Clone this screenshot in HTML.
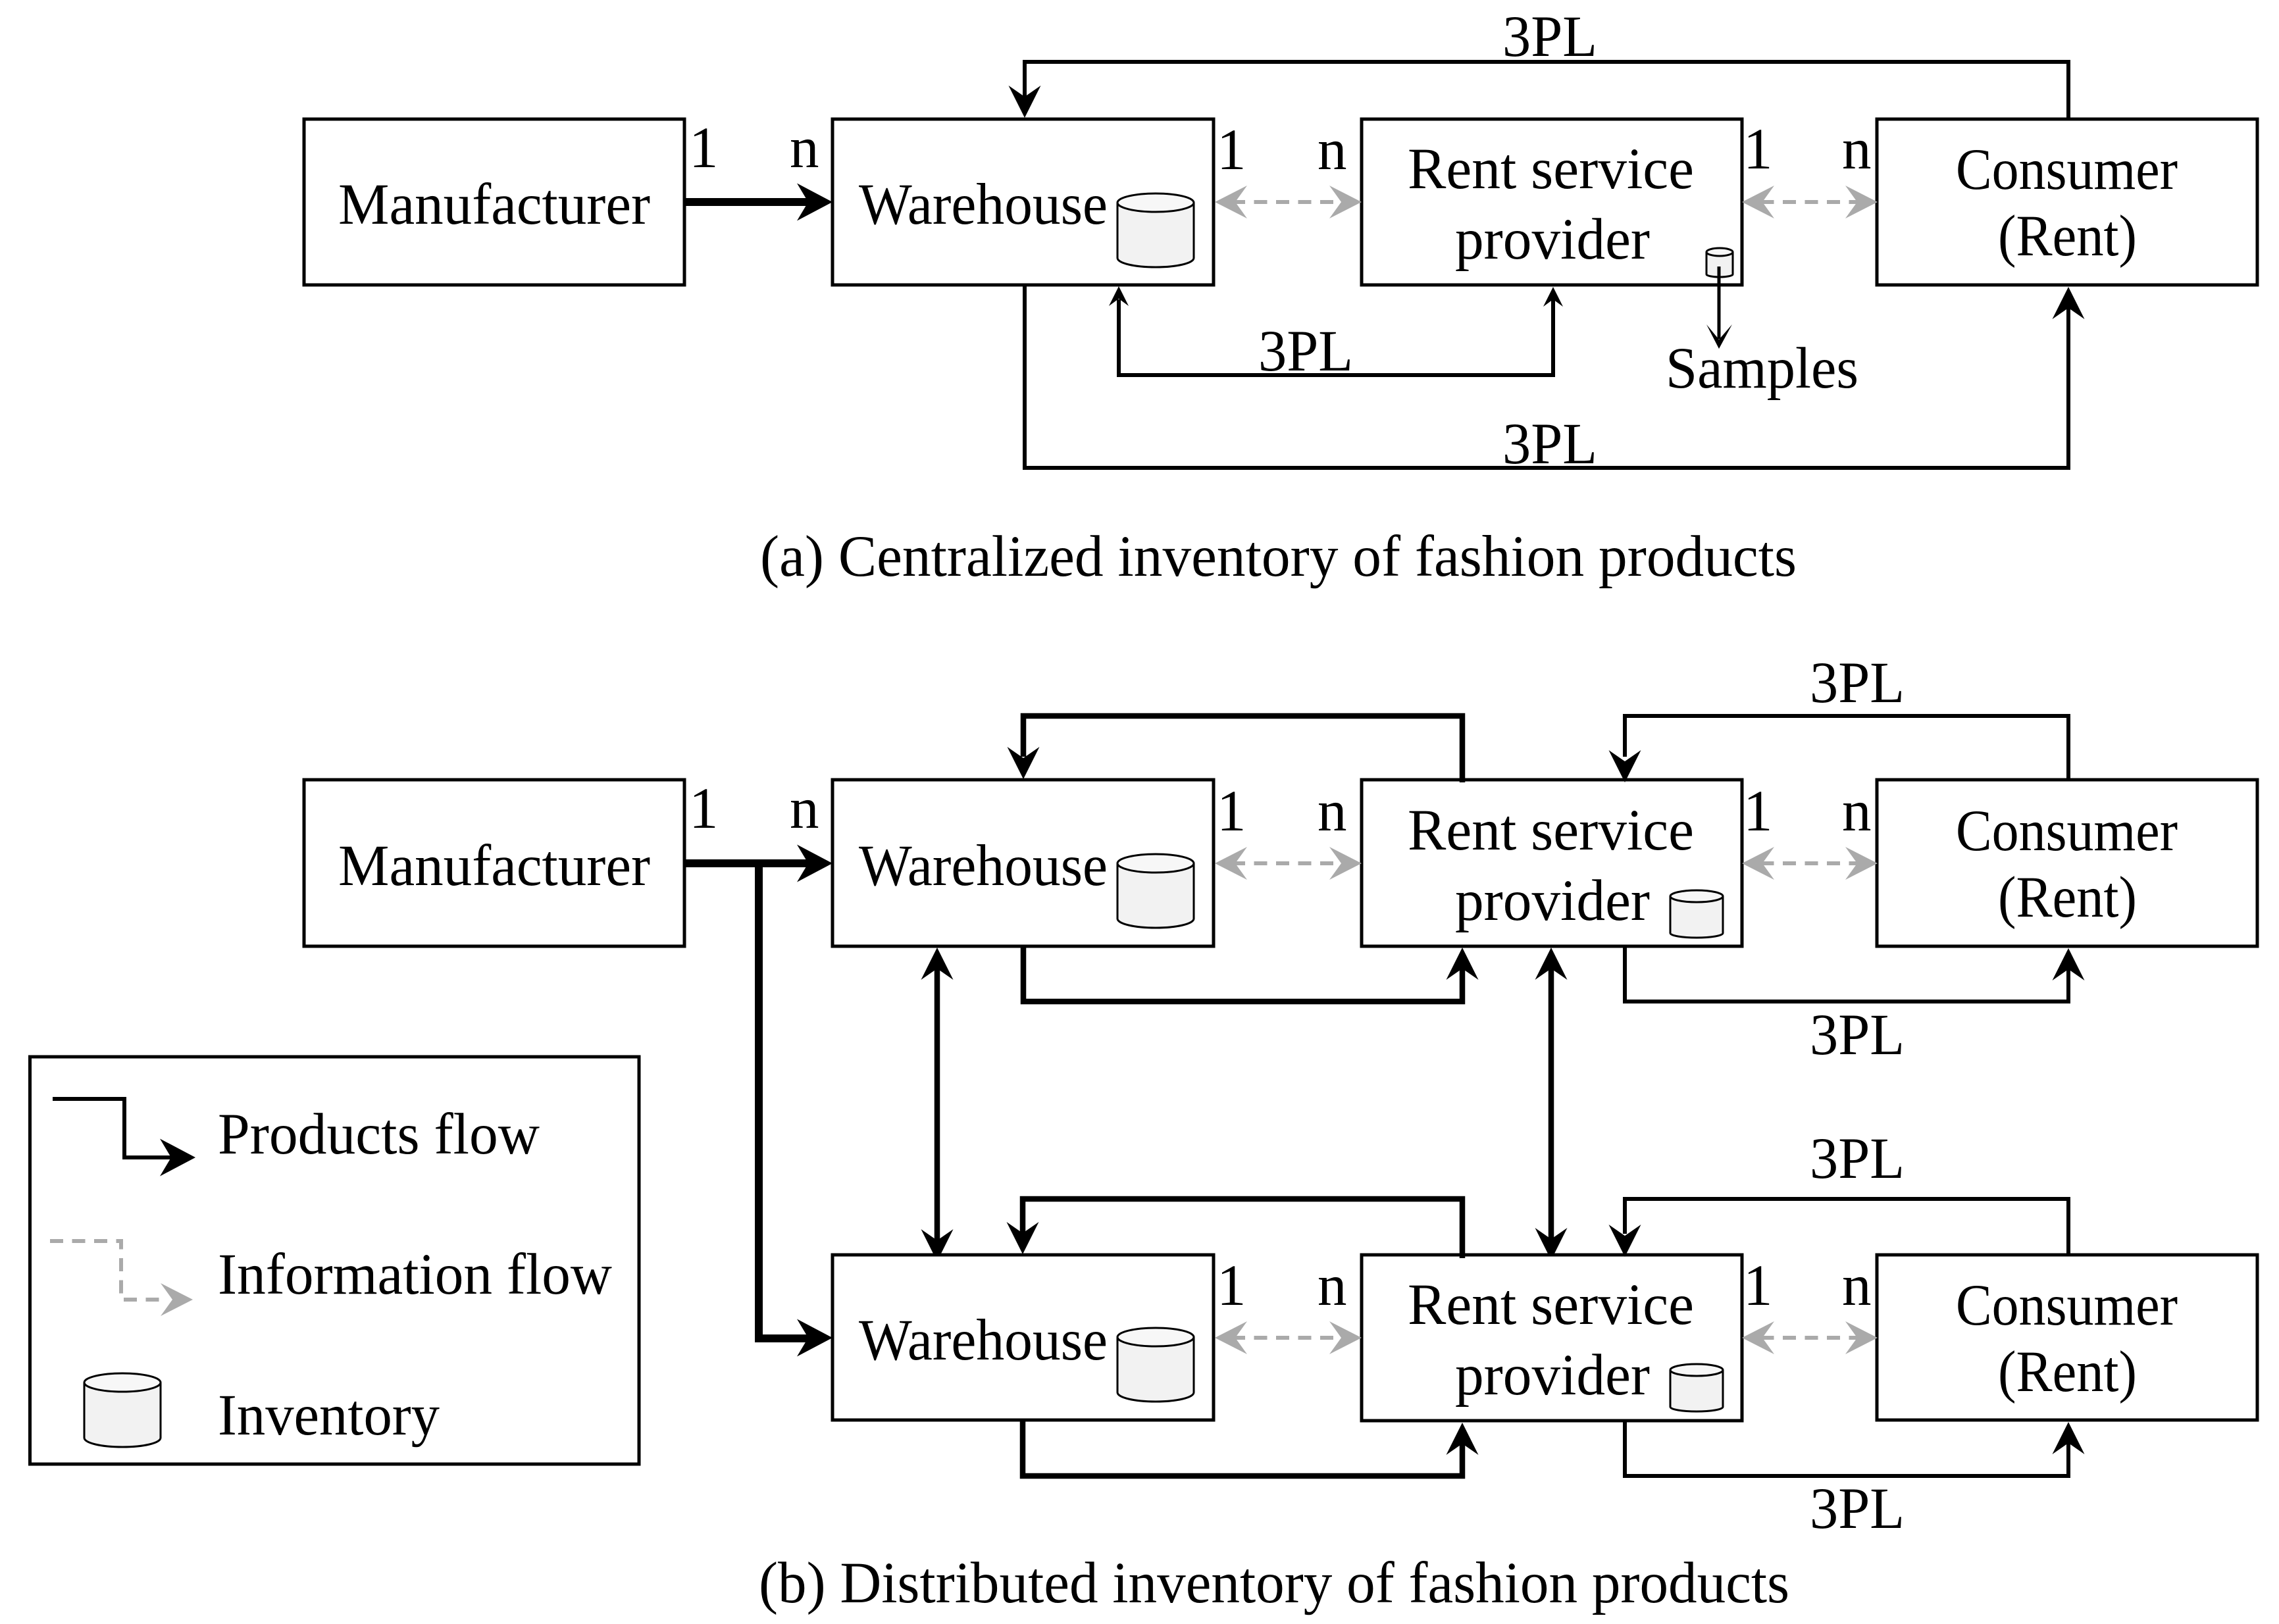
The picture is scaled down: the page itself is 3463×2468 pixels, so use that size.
<!DOCTYPE html>
<html><head><meta charset="utf-8"><style>
html,body{margin:0;padding:0;background:#fff}
svg{display:block}
text{font-family:"Liberation Serif",serif;font-size:89px;fill:#000}
.b{fill:#fff;stroke:#000;stroke-width:5}
.l{fill:none;stroke:#000;stroke-width:6}
.t{fill:none;stroke:#000;stroke-width:8.5}
.h{fill:none;stroke:#000;stroke-width:12}
.d{fill:none;stroke:#aaa;stroke-width:6;stroke-dasharray:20 13.5}
</style></head><body>
<svg width="3463" height="2468" viewBox="0 0 3463 2468" xmlns="http://www.w3.org/2000/svg">
<defs>
<polygon id="a" points="0,0 -49,-24.5 -32,0 -49,24.5"/>
<polygon id="H" points="0,0 -54,-28.5 -37,0 -54,28.5"/>
<polygon id="s" points="0,0 -30,-15 -19,0 -30,15"/>
<polygon id="g" points="0,0 -49,-25 -31,0 -49,25" fill="#aaa"/>
<g id="c"><path d="M0,14V98C0,106 26,112 58,112S116,106 116,98V14" fill="#f2f2f2" stroke="#000" stroke-width="3"/><ellipse cx="58" cy="14" rx="58" ry="14" fill="#f7f7f7" stroke="#000" stroke-width="3"/></g>
<g id="c2"><path d="M0,9V65C0,69 18,72 40,72S80,69 80,65V9" fill="#f2f2f2" stroke="#000" stroke-width="3"/><ellipse cx="40" cy="9" rx="40" ry="9" fill="#f7f7f7" stroke="#000" stroke-width="3"/></g>
<g id="c3"><path d="M0,6V40C0,42 9,44 20,44S40,42 40,40V6" fill="#f2f2f2" stroke="#000" stroke-width="3"/><ellipse cx="20" cy="6" rx="20" ry="6" fill="#f7f7f7" stroke="#000" stroke-width="3"/></g>
</defs>

<!-- TOP -->
<rect class="b" x="462" y="181" width="578" height="252"/>
<rect class="b" x="1265" y="181" width="579" height="252"/>
<rect class="b" x="2069" y="181" width="578" height="252"/>
<rect class="b" x="2852" y="181" width="578" height="252"/>
<path class="l" d="M3143,181V94H1557V150"/><use href="#a" transform="translate(1557,179) rotate(90)"/>
<path class="l" d="M1557,433V711H3143V465"/><use href="#a" transform="translate(3143,436) rotate(-90)"/>
<path class="l" d="M1700,455V570H2360V455"/><use href="#s" transform="translate(1700,435) rotate(-90)"/><use href="#s" transform="translate(2360,436) rotate(-90)"/>
<path class="h" d="M1040,307H1235"/><use href="#H" transform="translate(1265,307)"/>
<path class="d" d="M1872,307H2040"/><use href="#g" transform="translate(1846,307) rotate(180)"/><use href="#g" transform="translate(2069,307)"/>
<path class="d" d="M2675.5,307H2825"/><use href="#g" transform="translate(2647,307) rotate(180)"/><use href="#g" transform="translate(2853,307)"/>
<use href="#c" x="1698" y="294"/>
<use href="#c3" x="2593" y="377"/>
<path class="l" style="stroke-width:5" d="M2612,405V515"/><polygon points="2612,530 2593,493 2612,516 2632,493"/>
<text x="514" y="340" textLength="474" lengthAdjust="spacingAndGlyphs">Manufacturer</text>
<text x="1305" y="340" textLength="378" lengthAdjust="spacingAndGlyphs">Warehouse</text>
<text x="2139" y="286" textLength="435" lengthAdjust="spacingAndGlyphs">Rent service</text>
<text x="2211" y="393" textLength="296" lengthAdjust="spacingAndGlyphs">provider</text>
<text x="2972" y="287" textLength="337" lengthAdjust="spacingAndGlyphs">Consumer</text>
<text x="3036" y="388" textLength="211" lengthAdjust="spacingAndGlyphs">(Rent)</text>
<text x="2531" y="589" textLength="293" lengthAdjust="spacingAndGlyphs">Samples</text>
<text x="1047" y="254">1</text><text x="1200" y="254">n</text>
<text x="1849" y="257">1</text><text x="2002" y="257">n</text>
<text x="2649" y="256">1</text><text x="2799" y="256">n</text>
<text x="2283" y="85" textLength="144" lengthAdjust="spacingAndGlyphs">3PL</text>
<text x="1912" y="563" textLength="144" lengthAdjust="spacingAndGlyphs">3PL</text>
<text x="2283" y="704" textLength="144" lengthAdjust="spacingAndGlyphs">3PL</text>
<text x="1155" y="875" textLength="1575" lengthAdjust="spacingAndGlyphs">(a) Centralized inventory of fashion products</text>

<!-- ROW 2 -->
<rect class="b" x="462" y="1185" width="578" height="253"/>
<rect class="b" x="1265" y="1185" width="579" height="253"/>
<rect class="b" x="2069" y="1185" width="578" height="253"/>
<rect class="b" x="2852" y="1185" width="578" height="253"/>
<path class="t" d="M2222,1189V1088H1555V1150"/><use href="#a" transform="translate(1555,1184) rotate(90)"/>
<path class="t" d="M1555,1438V1522H2222V1470"/><use href="#a" transform="translate(2222,1440) rotate(-90)"/>
<path class="l" d="M3143,1185V1088H2469V1150"/><use href="#a" transform="translate(2469,1189) rotate(90)"/>
<path class="l" d="M2469,1438V1522H3143V1470"/><use href="#a" transform="translate(3143,1441) rotate(-90)"/>
<path class="h" d="M1040,1312H1235M1153,1312V2034H1235"/><use href="#H" transform="translate(1265,1312)"/><use href="#H" transform="translate(1265,2033)"/>
<path class="t" d="M1424,1470V1885"/><use href="#a" transform="translate(1424,1440) rotate(-90)"/><use href="#a" transform="translate(1424,1917) rotate(90)"/>
<path class="t" d="M2357,1470V1885"/><use href="#a" transform="translate(2357,1440) rotate(-90)"/><use href="#a" transform="translate(2357,1915) rotate(90)"/>
<path class="d" d="M1872,1312H2040"/><use href="#g" transform="translate(1846,1312) rotate(180)"/><use href="#g" transform="translate(2069,1312)"/>
<path class="d" d="M2675.5,1312H2825"/><use href="#g" transform="translate(2647,1312) rotate(180)"/><use href="#g" transform="translate(2853,1312)"/>
<use href="#c" x="1698" y="1298"/>
<use href="#c2" x="2538" y="1353"/>
<text x="514" y="1345" textLength="474" lengthAdjust="spacingAndGlyphs">Manufacturer</text>
<text x="1305" y="1345" textLength="378" lengthAdjust="spacingAndGlyphs">Warehouse</text>
<text x="2139" y="1291" textLength="435" lengthAdjust="spacingAndGlyphs">Rent service</text>
<text x="2211" y="1398" textLength="296" lengthAdjust="spacingAndGlyphs">provider</text>
<text x="2972" y="1292" textLength="337" lengthAdjust="spacingAndGlyphs">Consumer</text>
<text x="3036" y="1393" textLength="211" lengthAdjust="spacingAndGlyphs">(Rent)</text>
<text x="1047" y="1258">1</text><text x="1200" y="1258">n</text>
<text x="1849" y="1262">1</text><text x="2002" y="1262">n</text>
<text x="2649" y="1262">1</text><text x="2799" y="1262">n</text>
<text x="2750" y="1067" textLength="144" lengthAdjust="spacingAndGlyphs">3PL</text>
<text x="2750" y="1602" textLength="144" lengthAdjust="spacingAndGlyphs">3PL</text>

<!-- ROW 3 -->
<rect class="b" x="1265" y="1907" width="579" height="251"/>
<rect class="b" x="2069" y="1907" width="578" height="252"/>
<rect class="b" x="2852" y="1907" width="578" height="251"/>
<path class="t" d="M2222,1912V1822H1554V1875"/><use href="#a" transform="translate(1554,1906) rotate(90)"/>
<path class="t" d="M1554,2158V2243H2222V2190"/><use href="#a" transform="translate(2222,2162) rotate(-90)"/>
<path class="l" d="M3143,1907V1822H2469V1875"/><use href="#a" transform="translate(2469,1910) rotate(90)"/>
<path class="l" d="M2469,2159V2243H3143V2190"/><use href="#a" transform="translate(3143,2161) rotate(-90)"/>
<path class="d" d="M1872,2033H2040"/><use href="#g" transform="translate(1846,2033) rotate(180)"/><use href="#g" transform="translate(2069,2033)"/>
<path class="d" d="M2675.5,2033H2825"/><use href="#g" transform="translate(2647,2033) rotate(180)"/><use href="#g" transform="translate(2853,2033)"/>
<use href="#c" x="1698" y="2018"/>
<use href="#c2" x="2538" y="2073"/>
<text x="1305" y="2066" textLength="378" lengthAdjust="spacingAndGlyphs">Warehouse</text>
<text x="2139" y="2012" textLength="435" lengthAdjust="spacingAndGlyphs">Rent service</text>
<text x="2211" y="2119" textLength="296" lengthAdjust="spacingAndGlyphs">provider</text>
<text x="2972" y="2013" textLength="337" lengthAdjust="spacingAndGlyphs">Consumer</text>
<text x="3036" y="2114" textLength="211" lengthAdjust="spacingAndGlyphs">(Rent)</text>
<text x="1849" y="1983">1</text><text x="2002" y="1983">n</text>
<text x="2649" y="1983">1</text><text x="2799" y="1983">n</text>
<text x="2750" y="1790" textLength="144" lengthAdjust="spacingAndGlyphs">3PL</text>
<text x="2750" y="2322" textLength="144" lengthAdjust="spacingAndGlyphs">3PL</text>
<text x="1153" y="2435" textLength="1566" lengthAdjust="spacingAndGlyphs">(b) Distributed inventory of fashion products</text>

<!-- LEGEND -->
<rect class="b" x="45.5" y="1606" width="925.5" height="619"/>
<path class="l" d="M80,1670H189V1759H270"/><use href="#H" transform="translate(297,1759)"/>
<path class="d" d="M76,1886H184V1975H255"/><use href="#g" transform="translate(293,1975)"/>
<use href="#c" x="128" y="2087"/>
<text x="331" y="1753" textLength="489" lengthAdjust="spacingAndGlyphs">Products flow</text>
<text x="331" y="1966" textLength="599" lengthAdjust="spacingAndGlyphs">Information flow</text>
<text x="331" y="2180" textLength="337" lengthAdjust="spacingAndGlyphs">Inventory</text>
</svg>
</body></html>
